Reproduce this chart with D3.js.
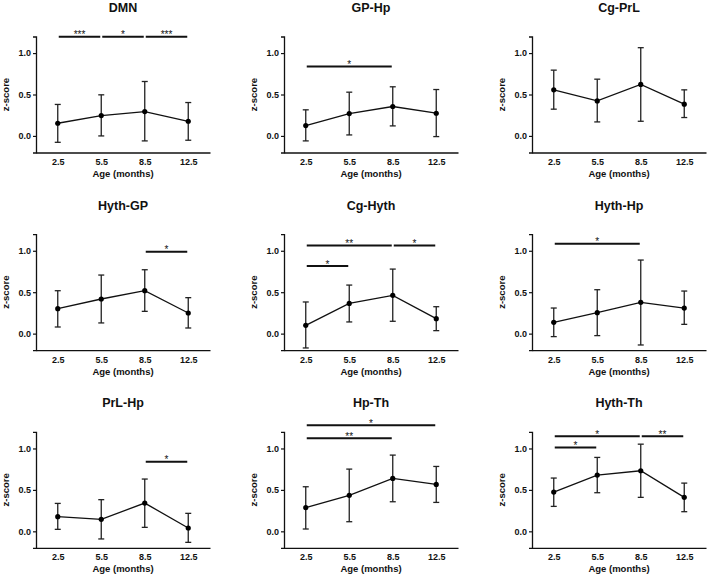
<!DOCTYPE html>
<html><head><meta charset="utf-8">
<script src="https://cdn.jsdelivr.net/npm/d3@7"></script>
<style>body{margin:0;background:#fff}svg{display:block}text{font-family:"Liberation Sans",Arial,sans-serif;font-weight:bold;fill:#111}</style>
</head><body><div id="chart"></div>
<script>
const ages = ["2.5", "5.5", "8.5", "12.5"];
const yTicks = [0.0, 0.5, 1.0];
const titles = ["DMN","GP-Hp","Cg-PrL","Hyth-GP","Cg-Hyth","Hyth-Hp","PrL-Hp","Hp-Th","Hyth-Th"];
const means = [
  [0.153, 0.246, 0.294, 0.177],
  [0.125, 0.270, 0.355, 0.274],
  [0.556, 0.423, 0.621, 0.383],
  [0.301, 0.418, 0.518, 0.249],
  [0.100, 0.365, 0.462, 0.181],
  [0.137, 0.253, 0.378, 0.309],
  [0.177, 0.145, 0.341, 0.040],
  [0.285, 0.434, 0.639, 0.566],
  [0.474, 0.679, 0.731, 0.410]
];
const upper = [
  [0.380, 0.496, 0.657, 0.403],
  [0.315, 0.528, 0.593, 0.560],
  [0.794, 0.685, 1.065, 0.556],
  [0.518, 0.707, 0.771, 0.434],
  [0.382, 0.586, 0.779, 0.325],
  [0.309, 0.530, 0.888, 0.514],
  [0.337, 0.382, 0.631, 0.217],
  [0.538, 0.751, 0.920, 0.783],
  [0.643, 0.892, 1.052, 0.582]
];
const lower = [
  [-0.077, 0.000, -0.060, -0.052],
  [-0.060, 0.012, 0.121, -0.008],
  [0.323, 0.169, 0.177, 0.222],
  [0.080, 0.129, 0.269, 0.068],
  [-0.173, 0.141, 0.149, 0.036],
  [-0.036, -0.024, -0.137, 0.112],
  [0.024, -0.092, 0.048, -0.133],
  [0.028, 0.116, 0.357, 0.349],
  [0.301, 0.466, 0.410, 0.237]
];
// significance brackets
const sigPanel = [0, 0, 0, 1, 3, 4, 4, 4, 5, 6, 7, 7, 8, 8, 8];
const sigFrom  = ["2.5","5.5","8.5","2.5","8.5","2.5","8.5","2.5","2.5","8.5","2.5","2.5","2.5","8.5","2.5"];
const sigTo    = ["5.5","8.5","12.5","8.5","12.5","8.5","12.5","5.5","8.5","12.5","12.5","8.5","8.5","12.5","5.5"];
const sigY     = [1.198, 1.198, 1.198, 0.839, 0.988, 1.064, 1.064, 0.815, 1.084, 0.839, 1.281, 1.124, 1.149, 1.149, 1.012];
const sigLabel = ["***","*","***","*","*","**","*","*","*","*","*","**","*","**","*"];

const W = 708, H = 577;
const svg = d3.select("#chart").append("svg").attr("width", W).attr("height", H);

titles.forEach((t, i) => {
  const col = i % 3, row = Math.floor(i / 3);
  const ox = col * 248, oy = row * 197.7;
  const g = svg.append("g").attr("transform", `translate(${ox},${oy})`);
  const x = d3.scalePoint().domain(ages).range([36, 210]).padding(0.5);
  const y = d3.scaleLinear().domain([-0.2, 1.2]).range([152.5, 36.5]);

  g.append("text").attr("x", 123).attr("y", 12).attr("text-anchor", "middle")
    .style("font-size", "12.5px").text(t);

  const ya = g.append("g").attr("transform", "translate(36,0)")
    .call(d3.axisLeft(y).tickValues(yTicks).tickFormat(d3.format(".1f")).tickSize(3).tickPadding(2));
  ya.select(".domain").attr("stroke", "#111").attr("stroke-width", 1.3);
  ya.selectAll(".tick line").attr("stroke", "#111").attr("stroke-width", 1.2);
  ya.selectAll("text").style("font-size", "9px").style("font-family", "Liberation Sans, Arial, sans-serif").attr("fill", "#111");

  const xa = g.append("g").attr("transform", "translate(0,152.5)")
    .call(d3.axisBottom(x).tickSize(0).tickPadding(6));
  xa.select(".domain").attr("stroke", "#111").attr("stroke-width", 1.3);
  xa.selectAll("text").style("font-size", "9px").style("font-family", "Liberation Sans, Arial, sans-serif").attr("fill", "#111");

  g.append("text").attr("x", 123).attr("y", 177).attr("text-anchor", "middle")
    .style("font-size", "9.5px").text("Age (months)");
  g.append("text").attr("transform", "translate(6,94.5) rotate(-90)").attr("dy", "0.35em")
    .attr("text-anchor", "middle").style("font-size", "9.5px").text("z-score");

  const pts = ages.map((a, k) => ({a, m: means[i][k], hi: upper[i][k], lo: lower[i][k]}));
  const eb = g.append("g").attr("stroke", "#222").attr("stroke-width", 1.3);
  pts.forEach(p => {
    const cx = x(p.a);
    eb.append("line").attr("x1", cx).attr("x2", cx).attr("y1", y(p.hi)).attr("y2", y(p.lo));
    eb.append("line").attr("x1", cx - 3).attr("x2", cx + 3).attr("y1", y(p.hi)).attr("y2", y(p.hi));
    eb.append("line").attr("x1", cx - 3).attr("x2", cx + 3).attr("y1", y(p.lo)).attr("y2", y(p.lo));
  });
  g.append("path").datum(pts).attr("fill", "none").attr("stroke", "#111").attr("stroke-width", 1.3)
    .attr("d", d3.line().x(p => x(p.a)).y(p => y(p.m)));
  g.selectAll("circle.pt").data(pts).enter().append("circle")
    .attr("cx", p => x(p.a)).attr("cy", p => y(p.m)).attr("r", 2.6).attr("fill", "#000");

  sigPanel.forEach((sp, k) => {
    if (sp !== i) return;
    const x1 = x(sigFrom[k]) + 1, x2 = x(sigTo[k]) - 1, yy = y(sigY[k]);
    g.append("line").attr("x1", x1).attr("x2", x2).attr("y1", yy).attr("y2", yy)
      .attr("stroke", "#111").attr("stroke-width", 2);
    g.append("text").attr("x", (x1 + x2) / 2).attr("y", yy + 1.5).attr("text-anchor", "middle")
      .style("font-size", "10px").style("font-weight", "normal").text(sigLabel[k]);
  });
});
</script></body></html>
